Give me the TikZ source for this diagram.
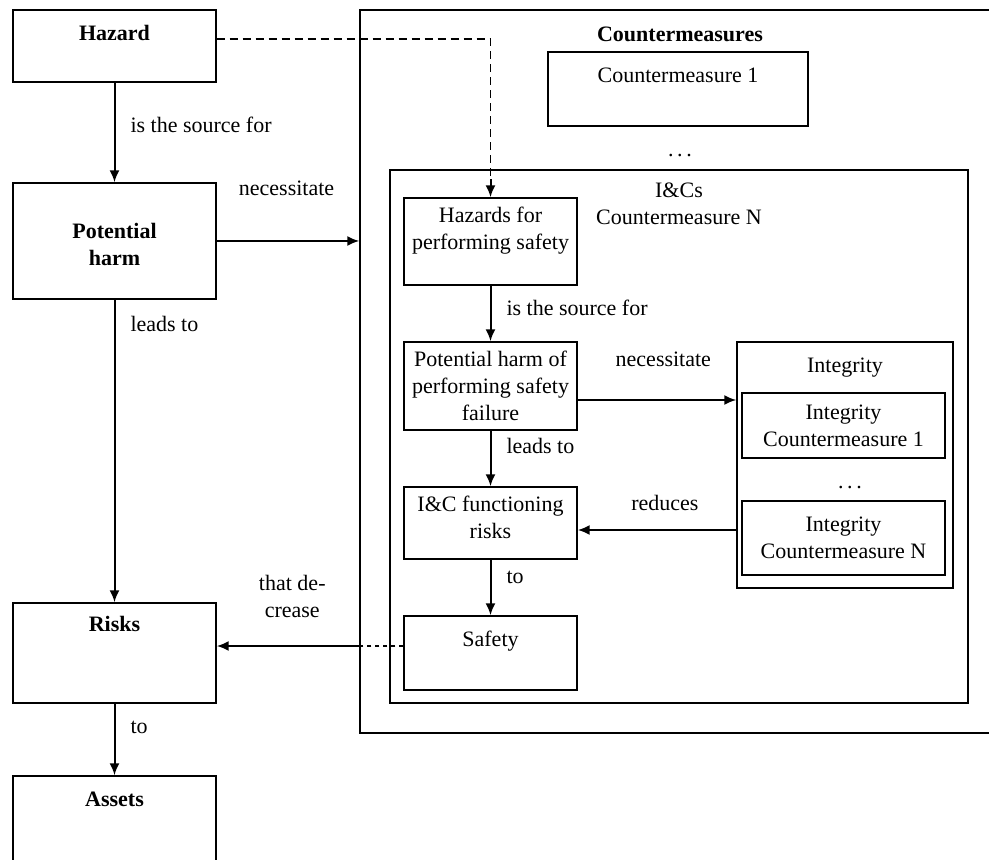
\documentclass[tikz,border=0pt]{standalone}
\usepackage{fontspec}
\setmainfont{Liberation Serif}
\usetikzlibrary{arrows.meta}

\tikzset{
  box/.style={draw, line width=0.7pt, inner sep=2pt, align=center},
  toplbl/.style={anchor=north, inner sep=8pt, align=center},
  arr/.style={line width=1pt},
  elbl/.style={inner sep=7.5pt},
}

\begin{document}
\begin{tikzpicture}[->,>={Latex[length=6pt,width=5pt]},auto,x=0.5pt,y=-0.5pt,
  font=\rmfamily\fontsize{11pt}{13.5pt}\selectfont]

\clip (0,0) rectangle (989,860);

% left column
\node[box, minimum width=101.5pt, minimum height=36pt,
  label={[toplbl]north:\textbf{Hazard}}] (hazard) at (114.5,46) {};
\node[box, minimum width=101.5pt, minimum height=58pt] (harm) at (114.5,241)
  {\rule{0pt}{10.7pt}\textbf{Potential}\\\textbf{harm}};
\node[box, minimum width=101.5pt, minimum height=50pt,
  label={[toplbl, inner sep=7pt]north:\textbf{Risks}}] (risks) at (114.5,653) {};
\node[box, minimum width=101.5pt, minimum height=52pt,
  label={[toplbl]north:\textbf{Assets}}] (assets) at (114.5,828) {};

% countermeasures
\node[box, minimum width=320pt, minimum height=361.5pt,
  label={[toplbl, inner sep=8.5pt]north:\textbf{Countermeasures}}] (cms) at (680,371.5) {};
\node[box, minimum width=130pt, minimum height=37pt,
  label={[toplbl]north:Countermeasure 1}] (cm1) at (678,89) {};
\node (dots1) at (680,156) {.\,.\,.};
\node[box, minimum width=289pt, minimum height=266.5pt,
  label={[toplbl, inner sep=6.5pt]north:I\&Cs\\Countermeasure N}] (ics) at (679,436.5) {};

% I&C chain
\node[box, minimum width=86.5pt, minimum height=43.5pt,
  label={[toplbl, inner sep=4.5pt]north:Hazards for\\performing safety}] (hfps) at (490.5,241.5) {};
\node[box, minimum width=86.5pt, minimum height=44pt] (phof) at (490.5,386)
  {Potential harm of\\performing safety\\failure};
\node[box, minimum width=86.5pt, minimum height=36pt,
  label={[toplbl, inner sep=4.5pt]north:I\&C functioning\\risks}] (icr) at (490.5,523) {};
\node[box, minimum width=86.5pt, minimum height=37pt,
  label={[toplbl, inner sep=7.5pt]north:Safety}] (safety) at (490.5,653) {};

% integrity
\node[box, minimum width=108pt, minimum height=123pt,
  label={[toplbl]north:Integrity}] (integ) at (845,465) {};
\node[box, minimum width=101.5pt, minimum height=32.5pt] (int1) at (843.5,425.5)
  {Integrity\\Countermeasure 1};
\node (dots2) at (850,488) {.\,.\,.};
\node[box, minimum width=101.5pt, minimum height=37pt] (intN) at (843.5,538)
  {Integrity\\Countermeasure N};

\path[arr]
  (hazard) edge node[elbl, pos=0.42] {is the source for} (harm)
  (harm)   edge node[elbl, pos=0.08] {leads to} (risks)
  (risks)  edge node[elbl, pos=0.33] {to} (assets)

  (hfps)   edge node[elbl, pos=0.4]  {is the source for} (phof)
  (phof)   edge node[elbl, pos=0.28] {leads to} (icr)
  (icr)    edge node[elbl, pos=0.32] {to} (safety)
;

\draw[arr] (harm.east) -- node[pos=0.49, above=19pt] {necessitate} (harm.east -| cms.west);
\draw[-, line width=0.7pt, dash pattern=on 4pt off 2.5pt] ([yshift=3.5pt]hazard.east) -| ([yshift=9pt]hfps.north);
\draw[arr, dash pattern=on 4pt off 2.5pt] ([yshift=9pt]hfps.north) -- (hfps.north);

\draw[arr] ([yshift=-7pt]phof.east) -- node[pos=0.54, above=13pt] {necessitate}
  ([yshift=-7pt]phof.east -| integ.west);
\draw[arr] ([yshift=4pt]intN.west -| integ.west) -- node[pos=0.45, above=6pt] {reduces}
  ([yshift=4pt]intN.west -| icr.east);

\coordinate (sfw) at ([yshift=3.5pt]safety.west);
\draw[-, line width=0.7pt, dash pattern=on 2pt off 2pt] (sfw) -- (sfw -| cms.west);
\draw[arr] (sfw -| cms.west) -- node[pos=0.47, above=10.5pt, align=center] {that de-\\crease}
  (sfw -| risks.east);
\end{tikzpicture}
\end{document}
